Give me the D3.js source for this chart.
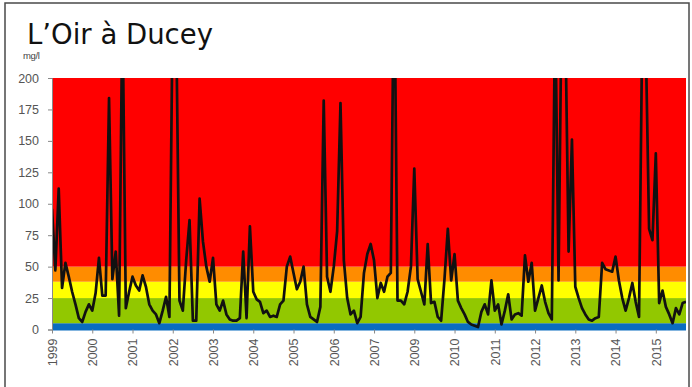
<!DOCTYPE html>
<html><head><meta charset="utf-8">
<script src="https://cdn.jsdelivr.net/npm/d3@7"></script>
<style>body{margin:0;background:#fff;} svg{display:block;}</style>
</head><body>
<script>
const title = "L’Oir à Ducey";
const unit = "mg/l";
const yTicks = [0,25,50,75,100,125,150,175,200];
const yearLabels = ["1999","2000","2001","2002","2003","2004","2005","2006","2007","2009","2010","2011","2012","2013","2014","2015"];
const bandLimits = [0,5,25,38,50,200];
const bandColors = ["#0a6cc0","#92c800","#ffff00","#ff8c00","#ff0000"];
const values = [
 96,47,112,33,53,42,30,20,9,6,14,20,
 15,29,57,27,27,184,40,62,11,260,17,30,
 42,35,31,43,34,20,15,12,5,15,26,10,
 260,250,23,15,55,87,7,7,104,70,50,38,
 57,20,15,23,12,8,7,7,9,62,9,82,
 30,24,22,13,15,10,11,10,20,23,50,58,
 45,32,38,50,20,10,8,6,18,182,42,30,
 50,78,180,55,25,12,15,5,10,45,60,68,
 55,25,37,30,42,45,300,23,23,20,30,50,
 128,40,30,20,68,21,22,10,7,40,80,39,
 60,23,17,12,6,4,3,2,14,20,12,39,
 15,20,4,15,28,8,12,13,11,59,38,53,
 15,25,35,22,13,8,260,39,280,250,62,151,
 34,25,17,12,8,7,9,10,53,48,47,46,
 58,39,25,15,25,37,22,10,250,230,80,71,
 140,21,31,18,12,5,17,12,21,22
];

const W = 692, H = 387;
const pL = 52, pR = 686, pT = 78, pB = 329.5;
const svg = d3.select("body").append("svg").attr("width", W).attr("height", H);

svg.append("rect").attr("x",5).attr("y",3).attr("width",684).attr("height",390)
  .attr("fill","#fff").attr("stroke","#4a4a4a").attr("stroke-width",1.5);

const x = d3.scaleLinear().domain([0, values.length - 1]).range([pL, pR]);
const y = d3.scaleLinear().domain([0, 200]).range([pB, pT]);

// bands
const bands = d3.range(bandColors.length).map(i => ({lo: bandLimits[i], hi: bandLimits[i+1], c: bandColors[i]}));
svg.append("g").selectAll("rect").data(bands).join("rect")
  .attr("x", pL).attr("width", pR - pL)
  .attr("y", d => y(d.hi)).attr("height", d => y(d.lo) - y(d.hi) + (d.lo === 0 ? 1 : 0))
  .attr("fill", d => d.c);

svg.append("defs").append("clipPath").attr("id","clip")
  .append("rect").attr("x", pL).attr("y", pT).attr("width", pR-pL).attr("height", pB-pT);

const line = d3.line().x((d,i) => x(i)).y(d => y(d)).curve(d3.curveLinear);
svg.append("path").datum(values).attr("d", line).attr("clip-path","url(#clip)")
  .attr("fill","none").attr("stroke","#111").attr("stroke-width",2.7).attr("stroke-linejoin","round");

// y axis
const yAxis = d3.axisLeft(y).tickValues(yTicks).tickSize(4).tickPadding(9);
const gy = svg.append("g").attr("transform", `translate(${pL},0)`).call(yAxis);
gy.select(".domain").attr("stroke","#888");
gy.selectAll(".tick line").attr("stroke","#888");
gy.selectAll("text").attr("font-family","Liberation Sans, Arial, sans-serif").attr("font-size",12.5).attr("fill","#555");

// x axis
const xTickIdx = yearLabels.map((d,i) => i*12);
const xAxis = d3.axisBottom(x).tickValues(xTickIdx).tickFormat((d,i) => yearLabels[i]).tickSize(4).tickSizeOuter(0);
const gx = svg.append("g").attr("transform", `translate(0,${pB})`).call(xAxis);
gx.select(".domain").remove();
gx.selectAll(".tick line").attr("stroke","#888");
gx.selectAll("text").attr("font-family","Liberation Sans, Arial, sans-serif").attr("font-size",12.5).attr("fill","#555")
  .attr("transform","rotate(-90)").attr("text-anchor","end").attr("x",-9).attr("y",0).attr("dy","0.35em");

svg.append("text").attr("x",27).attr("y",44).text(title)
  .attr("font-family","DejaVu Sans, Verdana, sans-serif").attr("font-size",27.5).attr("fill","#111");
svg.append("text").attr("x",23).attr("y",59).text(unit)
  .attr("font-family","Liberation Sans, Arial, sans-serif").attr("font-size",9.5).attr("fill","#444").attr("letter-spacing","-0.4");
</script>
</body></html>
